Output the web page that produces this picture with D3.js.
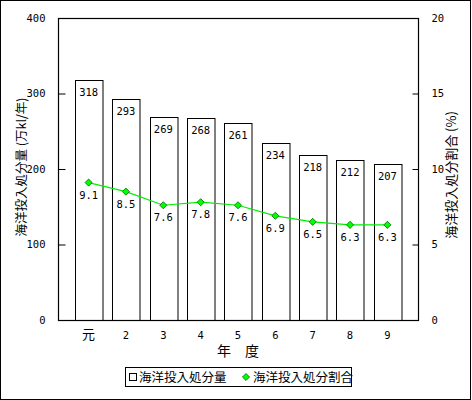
<!DOCTYPE html>
<html><head><meta charset="utf-8">
<script src="https://cdn.jsdelivr.net/npm/d3@7"></script>
<style>
body{margin:0;background:#fff;}
svg{display:block;}
.num{font-family:"DejaVu Sans Mono","Liberation Mono",monospace;font-size:10.5px;fill:#000;}
.jp{font-family:"Noto Sans CJK JP","Noto Sans CJK SC",sans-serif;fill:#000;}
</style></head>
<body>
<script>
const categories = ["元","2","3","4","5","6","7","8","9"];
const amounts = [318,293,269,268,261,234,218,212,207];
const ratios = [9.1,8.5,7.6,7.8,7.6,6.9,6.5,6.3,6.3];
const leftTicks = [0,100,200,300,400];
const rightTicks = [0,5,10,15,20];
const leftTitle = "海洋投入処分量 (万kl/年)";
const rightTitle = "海洋投入処分割合 (%)";
const xTitle = "年　度";
const legendLabels = ["海洋投入処分量","海洋投入処分割合"];

const W=472,H=400;
const m={l:58,r:418,t:18,b:320};
const svg=d3.select("body").append("svg").attr("width",W).attr("height",H);
svg.append("rect").attr("x",0.5).attr("y",0.5).attr("width",470).attr("height",398.5)
  .attr("fill","none").attr("stroke","#000").attr("shape-rendering","crispEdges");

const x=d3.scalePoint().domain(categories).range([m.l,m.r]).padding(0.82);
const yL=d3.scaleLinear().domain([0,400]).range([m.b,m.t]);
const yR=d3.scaleLinear().domain([0,20]).range([m.b,m.t]);
const bw=27.5;

// bars
svg.append("g").selectAll("rect").data(amounts).join("rect")
  .attr("x",(d,i)=>Math.round(x(categories[i])-bw/2)+0.5)
  .attr("y",d=>Math.round(yL(d))+0.5)
  .attr("width",bw)
  .attr("height",d=>yL(0)-Math.round(yL(d)))
  .attr("fill","#fff").attr("stroke","#000").attr("stroke-width",1);

svg.append("g").selectAll("text").data(amounts).join("text").attr("class","num")
  .attr("x",(d,i)=>x(categories[i])).attr("y",d=>yL(d)+16)
  .attr("text-anchor","middle").text(d=>d);

// plot frame
svg.append("rect").attr("x",m.l+0.5).attr("y",m.t+0.5).attr("width",m.r-m.l).attr("height",m.b-m.t)
  .attr("fill","none").attr("stroke","#000").attr("stroke-width",1.2);

// left axis
const axL=d3.axisLeft(yL).tickValues(leftTicks).tickSize(-7).tickPadding(13).tickFormat(d3.format("d"));
const gL=svg.append("g").attr("transform",`translate(${m.l+0.5},0)`).call(axL);
gL.select(".domain").remove();
gL.selectAll("text").attr("class","num").attr("font-family",null).attr("font-size",null);
gL.selectAll(".tick line").filter(d=>d===0||d===400).remove();

// right axis
const axR=d3.axisRight(yR).tickValues(rightTicks).tickSize(-6).tickPadding(13).tickFormat(d3.format("d"));
const gR=svg.append("g").attr("transform",`translate(${m.r+0.5},0)`).call(axR);
gR.select(".domain").remove();
gR.selectAll("text").attr("class","num").attr("font-family",null).attr("font-size",null);
gR.selectAll(".tick line").filter(d=>d===0||d===20).remove();

// x labels
svg.append("g").selectAll("text").data(categories).join("text")
  .attr("class",d=>d==="元"?"jp":"num").attr("font-size",d=>d==="元"?"13px":null)
  .attr("x",d=>x(d)).attr("y",339).attr("text-anchor","middle").text(d=>d);
svg.append("text").attr("class","jp").attr("font-size","14px").attr("x",(m.l+m.r)/2).attr("y",356)
  .attr("text-anchor","middle").text(xTitle);

// line
const line=d3.line().x((d,i)=>x(categories[i])).y(d=>yR(d));
svg.append("path").datum(ratios).attr("d",line).attr("fill","none").attr("stroke","#00ee00").attr("stroke-width",1.2);
const diamond=d3.symbol().type(d3.symbolDiamond2).size(32);
svg.append("g").selectAll("path").data(ratios).join("path")
  .attr("transform",(d,i)=>`translate(${x(categories[i])},${yR(d)})`)
  .attr("d",diamond).attr("fill","#00ff00").attr("stroke","#006600").attr("stroke-width",0.8);
svg.append("g").selectAll("text").data(ratios).join("text").attr("class","num")
  .attr("x",(d,i)=>x(categories[i])).attr("y",d=>yR(d)+16)
  .attr("text-anchor","middle").text(d=>d.toFixed(1));

// axis titles
svg.append("text").attr("class","jp").attr("font-size","12.5px")
  .attr("transform",`translate(26,${(m.t+m.b)/2-2}) rotate(-90)`).attr("text-anchor","middle").text(leftTitle);
svg.append("text").attr("class","jp").attr("font-size","13px")
  .attr("transform",`translate(456,${(m.t+m.b)/2+6}) rotate(-90)`).attr("text-anchor","middle").text(rightTitle);

// legend
const lg=svg.append("g");
lg.append("rect").attr("x",125.5).attr("y",367.5).attr("width",226).attr("height",19)
  .attr("fill","#fff").attr("stroke","#000");
lg.append("rect").attr("x",129.5).attr("y",373.5).attr("width",7).attr("height",7).attr("fill","#fff").attr("stroke","#000");
lg.append("text").attr("class","jp").attr("font-size","12.5px").attr("x",139).attr("y",382).text(legendLabels[0]);
lg.append("path").attr("d",diamond).attr("transform","translate(246,377)").attr("fill","#00ff00").attr("stroke","#006600").attr("stroke-width",0.8);
lg.append("text").attr("class","jp").attr("font-size","12.5px").attr("x",253).attr("y",382).text(legendLabels[1]);
</script>
</body></html>
